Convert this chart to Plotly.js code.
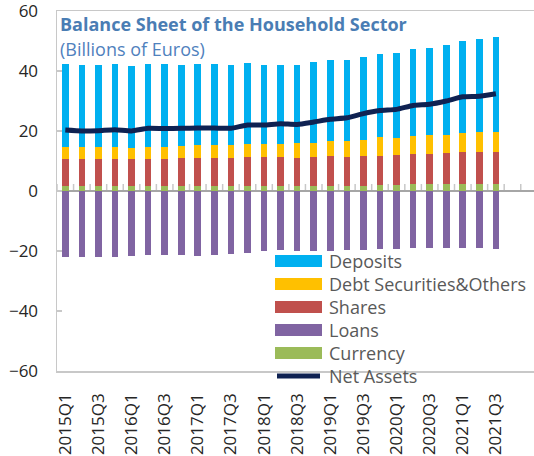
<!DOCTYPE html>
<html>
<head>
<meta charset="utf-8">
<script src="https://cdn.plot.ly/plotly-3.0.1.min.js"></script>
<style>html,body{margin:0;padding:0;background:#fff;}#chart{width:534px;height:456px;}</style>
</head>
<body>
<div id="chart"></div>
<script>
// ---- data (billions of euros) ----
var quarters = ["2015Q1","2015Q2","2015Q3","2015Q4","2016Q1","2016Q2","2016Q3","2016Q4",
  "2017Q1","2017Q2","2017Q3","2017Q4","2018Q1","2018Q2","2018Q3","2018Q4",
  "2019Q1","2019Q2","2019Q3","2019Q4","2020Q1","2020Q2","2020Q3","2020Q4",
  "2021Q1","2021Q2","2021Q3"];
var currency = [1.7,1.7,1.7,1.7,1.7,1.7,1.7,1.7,1.7,1.7,1.7,1.7,1.7,1.7,1.7,1.7,1.7,1.7,1.7,2.0,2.0,2.3,2.3,2.3,2.3,2.3,2.3];
var shares   = [9.1,9.1,9.1,9.1,9.1,9.1,9.1,9.4,9.4,9.4,9.4,9.7,9.8,9.6,9.4,9.8,10.1,9.8,9.9,9.8,10.1,10.2,10.2,10.4,10.8,10.8,10.8];
var debtSec  = [3.9,3.9,3.9,3.9,3.6,3.9,3.9,3.9,4.3,4.3,4.3,4.3,4.2,4.3,4.8,4.4,5.0,5.2,5.5,6.1,5.6,5.8,6.2,6.1,6.2,6.6,6.7];
var deposits = [27.7,27.3,27.2,27.6,27.2,27.5,27.5,27.0,27.0,26.8,26.6,26.9,26.2,26.4,26.2,27.1,26.9,27.0,27.5,27.7,28.2,29.1,28.9,29.8,30.6,30.9,31.7];
var loans    = [-22.1,-22.0,-21.9,-21.9,-21.7,-21.3,-21.3,-21.2,-21.6,-21.3,-21.1,-20.7,-20.0,-19.6,-20.0,-20.1,-20.1,-19.8,-19.5,-19.2,-19.2,-19.1,-19.0,-18.9,-18.9,-19.1,-19.3];
var netAssets= [20.3,20.0,20.1,20.4,20.0,20.9,20.8,20.9,21.0,21.0,20.9,22.0,22.0,22.4,22.2,23.0,23.9,24.4,25.8,26.8,27.2,28.5,28.9,30.0,31.4,31.6,32.4];
var yTicks = [-60,-40,-20,0,20,40,60];
var seriesNames = ["Deposits","Debt Securities&Others","Shares","Loans","Currency","Net Assets"];
var seriesColors = ["#00b0f0","#ffc000","#c0504d","#8064a2","#9bbb59","#0f2252"];
var titleText = "Balance Sheet of the Household Sector";
var subtitleText = "(Billions of Euros)";

// ---- layout constants ----
var W = 534, H = 456, L = 57, T = 11, B = 85, R = 0;
var pw = W - L - R, ph = H - T - B;
function px2x(p){ return (p - L) / pw; }
function py2y(p){ return (H - B - p) / ph; }
var FONT = "Open Sans, Noto Sans, sans-serif";
var XR = [-0.5, 28.3];

function bar(vals, idx){
  return {type:"bar", x:quarters, y:vals, name:seriesNames[idx], width:0.4,
    marker:{color:seriesColors[idx], line:{width:0}}, showlegend:false, hoverinfo:"skip"};
}
var traces = [
  bar(currency,4), bar(shares,2), bar(debtSec,1), bar(deposits,0), bar(loans,3),
  {type:"scatter", mode:"lines", x:quarters, y:netAssets, name:seriesNames[5],
   line:{color:seriesColors[5], width:5, shape:"spline", smoothing:0.5}, showlegend:false, hoverinfo:"skip"}
];

var shapes = [], annotations = [];
// category-boundary tick marks along the zero line (axis decoration)
for (var b = 0; b <= quarters.length + 1; b++){
  shapes.push({type:"line", xref:"x", yref:"y", x0:b - 0.5, x1:b - 0.5, ysizemode:"pixel", yanchor:0,
    y0:0, y1:7, line:{color:"#c8c8c8", width:1.5}, layer:"below"});
}
// custom legend (wide swatches as in reference)
var legRows = [261, 284, 307, 330, 353, 376];
for (var i = 0; i < seriesNames.length; i++){
  var yc = legRows[i];
  if (i < 5){
    shapes.push({type:"rect", xref:"paper", yref:"paper", x0:px2x(275), x1:px2x(322),
      y0:py2y(yc+6), y1:py2y(yc-6), fillcolor:seriesColors[i], line:{width:0}, layer:"above"});
  } else {
    shapes.push({type:"line", xref:"paper", yref:"paper", x0:px2x(277), x1:px2x(320),
      y0:py2y(yc), y1:py2y(yc), line:{color:seriesColors[i], width:5}, layer:"above"});
  }
  annotations.push({xref:"paper", yref:"paper", x:px2x(327), y:py2y(yc), xanchor:"left", yanchor:"middle",
    text:seriesNames[i], showarrow:false, font:{family:FONT, size:18, color:"#595959"}});
}
annotations.push({xref:"paper", yref:"paper", x:px2x(58), y:py2y(49), xanchor:"left", yanchor:"middle",
  text:subtitleText, showarrow:false, font:{family:FONT, size:18, color:"#4f81bd"}});

var layout = {
  width:W, height:H, margin:{l:L, r:R, t:T, b:B, pad:0},
  paper_bgcolor:"#fff", plot_bgcolor:"#fff",
  font:{family:FONT, color:"#262626"},
  barmode:"relative", bargap:0,
  title:{text:"<b>"+titleText+"</b>", xref:"paper", x:px2x(60), xanchor:"left",
    yref:"container", y:1 - 25/H, yanchor:"middle",
    font:{family:FONT, size:18, color:"#4a7db4"}},
  xaxis:{type:"category", range:XR, dtick:2, tick0:0, tickangle:-90,
    tickfont:{family:FONT, size:17, color:"#262626"}, ticks:"", showgrid:false,
    showline:true, mirror:true, linecolor:"#c8c8c8", linewidth:1.5, ticklabelstandoff:14, fixedrange:true},
  yaxis:{range:[-60,60], tickvals:yTicks, ticks:"inside", ticklen:5, tickcolor:"#c8c8c8", tickwidth:1.5,
    tickfont:{family:FONT, size:17, color:"#262626"}, showgrid:false, ticklabeloverflow:"allow",
    showline:true, linecolor:"#c8c8c8", linewidth:1.5,
    zeroline:true, zerolinecolor:"#a6a6a6", zerolinewidth:1.5, ticklabelstandoff:14, fixedrange:true},
  shapes:shapes, annotations:annotations, showlegend:false
};
Plotly.newPlot("chart", traces, layout, {staticPlot:true, displayModeBar:false});
</script>
</body>
</html>
